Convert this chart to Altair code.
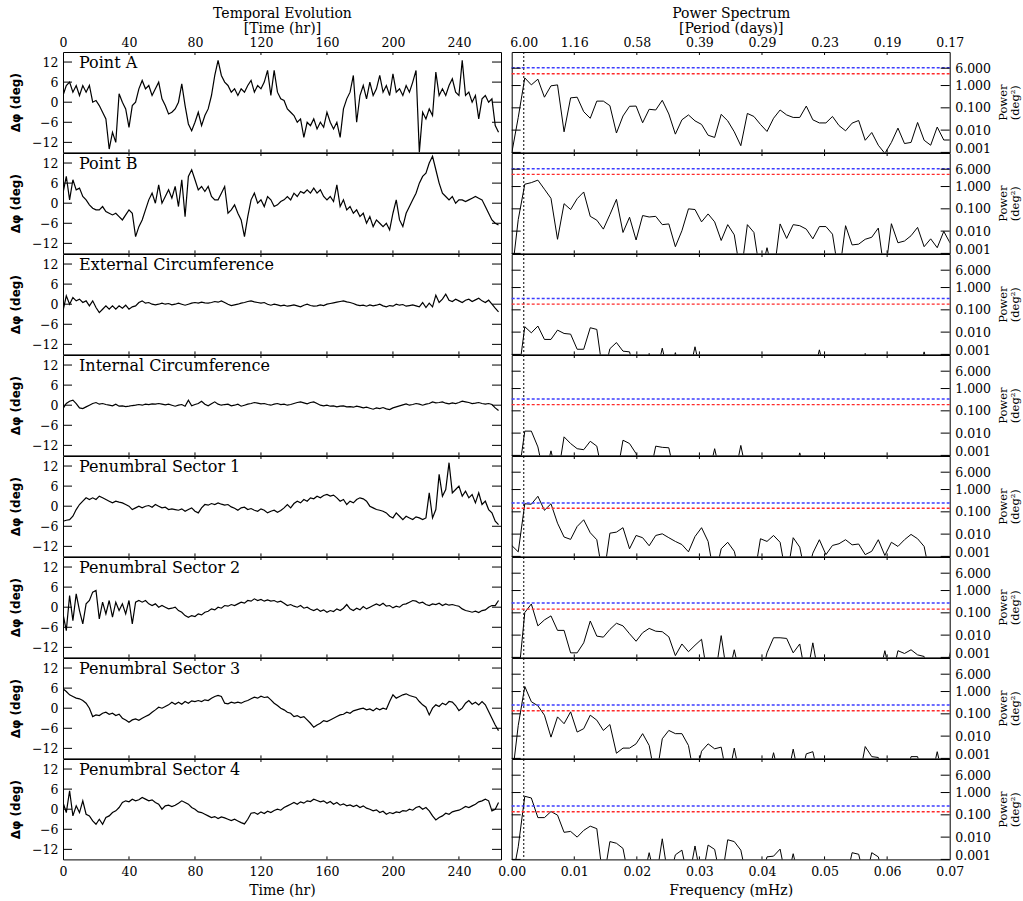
import altair as alt
import pandas as pd

# ---------------------------------------------------------------------------
# Sampling grids
# ---------------------------------------------------------------------------
HOURS = list(range(0, 266, 2))            # phase samples every 2 hr
RECORD_HR = 265.5                         # record length (hr)
DF_MHZ = 1000.0 / (RECORD_HR * 3600.0)    # spectral resolution (mHz)
FREQS = [k * DF_MHZ for k in range(68)]
LOW = 1e-4                                # power below the plotted range

# Axis ticks
TIME_TICKS = [0, 40, 80, 120, 160, 200, 240]
DPHI_TICKS = [-12, -6, 0, 6, 12]
FREQ_TICKS = [0.00, 0.01, 0.02, 0.03, 0.04, 0.05, 0.06, 0.07]
SIX_DAYS_MHZ = 1000.0 / (6 * 86400.0)
PERIOD_TICK_FREQS = [SIX_DAYS_MHZ, 0.01, 0.02, 0.03, 0.04, 0.05, 0.06, 0.07]
POWER_TICKS = [0.001, 0.01, 0.1, 1.0, 6.0]

PANEL_NAMES = ["Point A", "Point B", "External Circumference",
               "Internal Circumference", "Penumbral Sector 1",
               "Penumbral Sector 2", "Penumbral Sector 3", "Penumbral Sector 4"]

# ---------------------------------------------------------------------------
# Phase deviation series (deg), one value every 2 hr
# ---------------------------------------------------------------------------
point_a = [2, 5, 6, 3, 5, 2, 5, 3, 5, 0,
           0.5, -1, -3, -5, -14, -9, -12, 2.5, 0, -2,
           -7.5, -1, 0, 4, 6.5, 4, 5, 2, 4, 6,
           1, -1, -3.5, -3, -2, 0, 5.5, -1, -6.5, -8.5,
           -6, -3, -7, -4, -2, 2, 8, 12.5, 8, 6,
           5, 3, 4, 2, 4, 3, 5, 6.5, 3, 5,
           4, 6, 9.5, 2, 9.5, 3, 1, 0.5, -2, -3,
           -4, -6, -5, -10.5, -6, -7, -5, -8, -6, -7.5,
           -3, -6, -8, -6, -10.5, -2, 1, 3, 8, -6,
           2, 5, 1, 6, 2, 4, 8, 3, 5, 2,
           8.5, 3, 4, 2, 5, 3, 6, 9.5, -15, -3,
           -5, -2, -4, 9, 2, 4, 2, 5, 7, 3,
           2, 12.5, 2, 3, 0, 2, -5, 1, 2, 0,
           1, -7, -9]

point_b = [3, 8, 1, 7, 4, 4.5, 2, 1, -0.5, -1.5,
           -2, -2, -1, -2.5, -3, -3.5, -3, -4, -5, -3.5,
           -2, -3, -10, -7, -5, -2, 1, 3, 0, 5.5,
           0, 2, 4, 1.5, 5, -1, 7, -4, 8, 10,
           7, 4, 5, 3.5, 5, 2, 1, 1, 3, 5,
           -3, -2, -0.5, -3, -5, -10, -4, 1, 3, 0,
           1, -1, 2, 1, -1, -0.5, 0.5, 1, 2, 1,
           3, 2, 3.5, 3, 4, 3, 4.5, 3, 4, 2,
           1, 2, 0.5, 5.5, -1, 1, -2, -1, -3, -2,
           -4, -3, -6, -4, -7, -5, -6, -7, -6, -8,
           -3, 1, -5, -7, -3, -1, 1, 3, 6, 8,
           9, 12, 14, 10, 6, 3, 2, 1, 2, 0,
           1, 1, 0.5, 1, 1.5, 2, 1.5, 1, -1, -3,
           -5, -6, -6.5]

ext_circ = [-2, 2.5, 0, 2, 1, 1.5, 0.5, 1, -0.5, 1,
            -1, -2.5, -1.5, -0.5, -1.5, -0.5, -1.5, -0.5, -1.2, -0.3,
            -1.5, -0.8, -0.5, 0.5, 1, 0.3, 0.5, 0, -0.2, 0,
            0.3, 0, 0.2, -0.2, 0, 0.3, 0, -0.3, 0, 0.3,
            0.5, 0.3, 0.6, 0.4, 0.3, 0.5, 0.8, 0.6, 1, 0.5,
            0, -0.4, -0.2, 0, 0.3, 0.5, 0.8, 1, 0.7, 0.5,
            0.3, 0.5, 0, -0.3, 0, -0.2, -0.5, -0.3, -0.6, -0.4,
            -0.2, -0.5, -0.8, -0.3, 0, -0.4, -0.6, -0.5, -0.2, -0.4,
            0, 0.2, 0.4, 0.6, 0.8, 1, 0.7, 0.5, 0.2, -0.2,
            -0.4, -0.3, -0.6, -0.2, -0.5, -0.3, 0, -0.5, -0.8, -0.4,
            -0.6, 0, -0.3, -0.1, -0.6, -0.4, -0.2, -0.5, -0.8, 0.5,
            -1, 0.3, -0.8, 2.7, 0.5, 1.5, 3, 1.2, 0.8, 1.5,
            1, 0.5, 1.2, 1.5, 0.8, 1.3, 1.8, 1, 0.5, 1.2,
            0, -1.2, -2.3]

int_circ = [-1, 0.5, 1.2, 1.5, 0.5, -0.8, -1, -0.5, 0, 0.5,
            0.8, 0.3, 0.5, 0.2, 0, -0.2, 0.3, -0.3, -0.2, -0.4,
            -0.3, -0.1, 0, 0.2, 0, 0.3, 0.2, 0.4, 0.3, 0.5,
            0.3, 0.1, 0.3, 0, -0.3, 0, 0.2, -0.3, 1.5, -0.2,
            0.2, 0.5, 1.2, 0.3, -0.2, 0.4, 1, 0.3, 0, 0.2,
            0.3, -0.2, 0, 0.3, -0.3, 0, 0.3, 0.5, 0.8, 0.6,
            0.4, 0.5, 0.2, 0, 0.3, 0.5, 0.2, 0.3, 0, 0.2,
            0.5, 0.8, 1, 0.7, 0.4, 0.8, 1, 0.5, 0, -0.2,
            0, -0.3, -0.2, -0.5, -0.3, -0.2, -0.5, -0.4, -0.6, -0.3,
            -0.5, -0.8, -0.6, -0.9, -1.2, -0.8, -1.0, -0.7, -1.1, -1.3,
            -0.8, -0.5, -0.2, 0.1, 0.4, 0, 0.2, 0.5, 0.3, 0,
            0.3, 0.5, 1, 0.7, 0.8, 1, 0.6, 0.4, 0.7, 0.5,
            0.8, 1.2, 1, 0.8, 0.5, 0.6, 0.8, 0.5, 0.3, 0.5,
            0.2, -0.8, -1.6]

sector_1 = [-4.5, -4.2, -4, -3, -1, 0.5, 1.5, 2.5, 2, 2.5,
            2, 3, 2.5, 2, 1.5, 1, 1.5, 1.2, 1, 0.5,
            0, -1, -0.5, 0, -0.5, 0, 0.2, -0.3, 0.5, 0,
            -0.5, -0.3, -1, -0.8, -1, -1.2, -0.8, -1.5, -1, -0.5,
            -1.5, -2, -0.5, 0.5, 0.3, 0.8, 0.5, 1, 0.6, 0.3,
            0.5, -0.2, -0.6, -1.2, -0.5, -0.3, -1, -0.7, -1.2, -1.5,
            -0.8, -1.2, -2, -1.5, -1.2, -1.8, -1.3, -0.5, 0.5, -0.5,
            0.8, 1.5, 1, 2, 1.5, 2.5, 2.2, 3, 2.5, 3.2,
            3.5, 3, 3.3, 2.5, 1.5, 2, 0.5, 1.5, 1, 2,
            2.5, 2.2, 1.5, 0, -0.5, -1, -1.2, -1.5, -2, -3,
            -3.5, -2, -3, -4, -3, -3.5, -4, -3.2, -3.5, -4,
            -3.5, 4, -3.5, -1, 9.5, 3, 5, 13, 4, 5,
            6, 3, 4.5, 2.5, 3.5, 1, 4, 0.5, 1.5, -1,
            -2, -4.5, -5.5]

sector_2 = [-2, -7, 3.5, -4, 4, -1, -5, 1, 2, 4.5,
            5, -3.5, 1.5, -2, 2, -3, 1.5, -1, 1, -2,
            2, -5, 1.5, 2, 1.5, 2, 1, 0.5, 1, 0,
            0.5, 0, -0.5, -0.3, 0, -1, -1.5, -2.5, -3, -2.5,
            -2.8, -2, -2.3, -1.5, -1.2, -0.5, -0.8, 0, -0.3, 0.5,
            0.3, 0.8, 0.5, 1, 1.5, 1.2, 2, 1.8, 2.5, 2,
            2.3, 1.8, 2.2, 1.8, 2, 1.5, 1.8, 1.2, 0.5, 0.8,
            0.3, 0, 0.5, -0.3, 0, -0.6, -1, -0.5, -1.2, -0.8,
            -1.5, -1, -1.3, -0.5, -1, -0.3, 0.8, -0.5, -1, -0.3,
            -0.8, 0.2, -0.5, 0, 0.5, 1, 0.5, 1.2, 0.3, 0.5,
            -0.2, 0.3, 0, 0.8, 1, 1.5, 2, 1.8, 1.2, 1.5,
            0.8, 0.5, 1, 0.8, 1.2, 0.5, 1, 0.6, 0.8, 0.5,
            0.3, -0.5, -1, -1.2, -1.5, -1.2, -1.6, -1.0, -0.8, 0,
            0.5, 0.5, 2]

sector_3 = [5.8, 5, 4, 3.5, 3, 2.8, 2.3, 1.5, 0, -2.5,
            -2, -2.2, -1.5, -1.2, -1.8, -1.5, -2.2, -1.8, -3, -3.5,
            -4.2, -3.5, -3.2, -3.6, -3, -2.5, -2, -1.2, -0.5, 0.3,
            0, 0.5, 1, 1.8, 1.2, 1.8, 1.2, 2, 1.5, 2.2,
            2, 2.3, 2, 2.5, 2.3, 3, 3.5, 3.8, 3.5, 1.5,
            1.3, 1.8, 1.5, 1.8, 1.5, 2, 2.3, 2.8, 3.3, 3,
            3.6, 3.2, 3.4, 2.5, 1.5, 0.8, 0, -0.5, -1.2, -1.5,
            -2.5, -2.2, -2.8, -2.5, -3.5, -4.5, -5.7, -5, -4.5, -3.7,
            -4, -3.5, -3, -2.5, -2, -1.8, -1.2, -1.5, -0.8, -0.5,
            -0.2, 0, -0.5, -0.2, -0.8, 0, -0.5, 0, -0.3, 2,
            4, 3, 3.5, 4, 4.3, 3.8, 3.5, 3.2, 2, 1,
            0.3, -2, 0, 1, 0.5, 1.5, 1, 2, 1.8, 0.8,
            -0.7, 0, 1.5, 2.3, 1.2, 1.8, 1, 2, 1, -1,
            -3, -5, -6.7]

sector_4 = [2, -1, 5.5, -2, 1, -1, 2.5, -1.5, -2, -3.5,
            -4.5, -3, -4.5, -2.5, -2, -1, -0.5, 0.5, 2, 2.5,
            2.2, 3, 2.5, 2.8, 3.5, 3, 2.5, 2.8, 2, 1.5,
            0, 1, 1.2, 0.8, 1.2, 1.8, 2.5, 2, 1.5, 0.5,
            0, -0.8, -1, -1.5, -2, -2.5, -2.2, -2.8, -2.3, -2.6,
            -3, -3.4, -3, -3.5, -4, -4.4, -3, -1.2, -1, -1.5,
            -0.8, -1.3, -0.6, -1, -0.4, 0, -0.3, 0.5, 1, 1.5,
            2, 1.5, 2.2, 1.8, 2.5, 2.3, 3, 2.6, 2.2, 2.5,
            1.8, 2.3, 1.5, 2, 1.2, 1.6, 1, 1.3, 0.8, 1.2,
            0.5, 1, 0.3, 0, -0.5, -0.2, -1, -0.6, -1.5, -1,
            -1.3, -0.8, -1, -0.4, -0.6, 0, -0.3, 0.5, 0.8, 0,
            0.5, -0.5, -2, -3.2, -2.5, -2, -1.2, -1.5, -0.8, -0.5,
            -0.3, 0.2, 0.8, 0.5, 1, 1.5, 2.2, 2.5, 3, 2.5,
            -0.5, 0, 2]

# ---------------------------------------------------------------------------
# Power spectra (deg^2), one value per frequency bin
# ---------------------------------------------------------------------------
power_a = [0.0009, 0.037, 2.2, 1.07, 1.93, 0.30, 0.97, 1.07, 0.0084, 0.28,
           0.30, 0.067, 0.034, 0.20, 0.20, 0.125, 0.0074, 0.043, 0.117, 0.12,
           0.0214, 0.086, 0.08, 0.218, 0.053, 0.0066, 0.029, 0.048, 0.026, 0.018,
           0.0059, 0.0047, 0.051, 0.026, 0.0084, 0.0020, 0.056, 0.041, 0.018, 0.0087,
           0.034, 0.08, 0.048, 0.037, 0.037, 0.12, 0.029, 0.021, 0.021, 0.041,
           0.016, 0.0093, 0.0206, 0.027, 0.0035, 0.0078, 0.0021, 0.0009, 0.0028, 0.0123,
           0.0025, 0.0028, 0.022, 0.0035, 0.0021, 0.0137, 0.0036, 0.0036]

power_b = [LOW, 0.033, 1.27, 1.5, 1.94, 0.76, 0.295, 0.0043, 0.17, 0.093,
           0.285, 0.57, 0.046, 0.031, 0.0123, 0.055, 0.266, 0.0087, 0.042, 0.0040,
           0.05, 0.043, 0.046, 0.0195, 0.021, 0.002, 0.0104, 0.1, 0.093, 0.026,
           0.059, 0.026, 0.0038, 0.0195, 0.0068, LOW, 0.0195, 0.0087, LOW, 0.0018,
           LOW, 0.021, 0.0047, 0.0195, 0.0175, 0.0123, 0.0045, 0.016, 0.016, 0.0073,
           LOW, 0.0175, 0.0024, 0.0026, 0.0043, 0.0053, 0.0137, LOW, 0.0215, 0.003,
           0.0036, 0.0062, 0.0147, 0.002, 0.0045, 0.0018, 0.0097, 0.0028]

power_ext = [LOW, LOW, 0.0175, 0.0093, 0.0187, 0.0047, 0.0047, 0.0123, 0.0087, 0.0081,
             0.0017, 0.0017, 0.0157, 0.0132, LOW, 0.0018, 0.0034, 0.0014, 0.0013, LOW,
             LOW, 0.0011, LOW, 0.0019, LOW, 0.0012, LOW, LOW, 0.0022, LOW,
             LOW, LOW, LOW, LOW, LOW, LOW, LOW, LOW, LOW, LOW,
             LOW, LOW, LOW, LOW, LOW, LOW, LOW, 0.0016, LOW, LOW,
             LOW, LOW, LOW, LOW, 0.0011, LOW, LOW, LOW, LOW, LOW,
             LOW, LOW, LOW, 0.0013, LOW, LOW, LOW, LOW]

power_int = [LOW, LOW, 0.0123, 0.0123, 0.0024, LOW, 0.0016, LOW, 0.0068, 0.0034,
             0.0020, 0.0018, 0.0043, 0.0026, LOW, LOW, LOW, 0.0048, 0.0034, 0.0012,
             LOW, LOW, 0.0026, 0.0023, 0.0022, LOW, LOW, LOW, LOW, LOW,
             LOW, 0.0020, LOW, LOW, LOW, 0.0028, LOW, LOW, LOW, LOW,
             LOW, LOW, LOW, LOW, 0.0013, LOW, LOW, LOW, LOW, LOW,
             LOW, LOW, LOW, LOW, LOW, LOW, LOW, LOW, LOW, LOW,
             LOW, LOW, LOW, LOW, LOW, LOW, LOW, LOW]

power_s1 = [0.0031, 0.0016, 0.23, 0.22, 0.50, 0.117, 0.23, 0.031, 0.0074, 0.0058,
            0.022, 0.044, 0.0115, 0.0056, LOW, 0.011, 0.0123, 0.0194, 0.0022, 0.0087,
            0.0069, 0.0030, 0.0087, 0.0103, 0.0069, 0.0047, 0.0034, 0.0016, 0.0078, 0.0194,
            0.0047, LOW, 0.0022, 0.0043, 0.0017, LOW, LOW, LOW, 0.0062, 0.0047,
            0.0087, 0.0043, LOW, 0.0069, 0.0026, LOW, 0.0014, 0.0056, 0.0012, 0.0031,
            0.0037, 0.0056, 0.0033, 0.0036, 0.0012, 0.0017, 0.0056, 0.0011, 0.0043, 0.0028,
            0.0056, 0.0097, 0.0062, 0.0028, LOW, LOW, LOW, LOW]

power_s2 = [LOW, LOW, 0.103, 0.25, 0.026, 0.048, 0.073, 0.0163, 0.0163, 0.0016,
            0.0016, 0.0045, 0.043, 0.0090, 0.0081, 0.018, 0.034, 0.026, 0.0115, 0.0053,
            0.0128, 0.020, 0.015, 0.0142, 0.0084, 0.0012, 0.0040, 0.0018, 0.0035, 0.0065,
            LOW, LOW, 0.0095, LOW, 0.0022, LOW, LOW, LOW, LOW, 0.0016,
            0.0076, 0.0076, 0.0071, 0.0016, 0.0040, LOW, 0.0045, LOW, LOW, LOW,
            LOW, LOW, LOW, LOW, LOW, LOW, LOW, 0.0020, LOW, 0.0020,
            0.0015, 0.0022, 0.0013, 0.0011, LOW, LOW, LOW, 0.0017]

power_s3 = [LOW, 0.03, 1.69, 0.35, 0.23, 0.087, 0.0090, 0.073, 0.036, 0.123,
            0.0152, 0.0216, 0.087, 0.052, 0.018, 0.033, 0.0017, 0.0029, 0.0029, 0.0045,
            0.0129, 0.0038, LOW, 0.0076, 0.018, 0.0129, 0.0129, 0.0038, LOW, 0.0021,
            0.0045, 0.0027, 0.0032, LOW, 0.0029, LOW, LOW, LOW, LOW, LOW,
            0.0018, LOW, LOW, 0.0026, LOW, 0.0016, 0.0020, LOW, LOW, LOW,
            LOW, LOW, LOW, LOW, 0.0034, 0.0012, 0.0011, LOW, LOW, LOW,
            LOW, 0.0012, 0.0012, LOW, LOW, 0.0020, LOW, LOW]

power_s4 = [LOW, 0.0037, 0.68, 0.57, 0.075, 0.075, 0.14, 0.097, 0.0164, 0.018,
            0.010, 0.020, 0.031, 0.024, LOW, 0.0063, 0.0053, 0.0031, LOW, LOW,
            LOW, 0.0020, LOW, 0.0084, LOW, 0.0016, 0.0026, LOW, 0.0040, LOW,
            0.0044, 0.0028, LOW, 0.0076, 0.0063, 0.0026, LOW, LOW, LOW, 0.0013,
            0.0014, 0.0029, LOW, 0.0018, LOW, LOW, LOW, LOW, LOW, LOW,
            LOW, LOW, 0.0020, 0.0017, LOW, 0.0020, 0.0013, LOW, LOW, LOW,
            LOW, LOW, LOW, LOW, LOW, LOW, LOW, LOW]

# Significance levels drawn as dotted lines (deg^2)
SIG_BLUE = [6.3, 6.3, 0.32, 0.34, 0.25, 0.275, 0.25, 0.25]
SIG_RED = [3.4, 3.5, 0.18, 0.19, 0.145, 0.147, 0.137, 0.138]

PHASE_SERIES = [point_a, point_b, ext_circ, int_circ,
                sector_1, sector_2, sector_3, sector_4]
POWER_SERIES = [power_a, power_b, power_ext, power_int,
                power_s1, power_s2, power_s3, power_s4]

# ---------------------------------------------------------------------------
# Layout constants
# ---------------------------------------------------------------------------
W = 438
H = 100.4
N = len(PANEL_NAMES)
YTICK_LEN = 9
XTICK_LEN = 3
SERIF = "DejaVu Serif"


def inner_ticks(xscale, yscale, x_axis, y_axis, xvals, yvals):
    """Inward-pointing tick marks on all four sides of a panel.

    Every layer of a panel carries the same axis definition so that the
    layered axes merge into one.
    """
    xdf = pd.DataFrame({"x": xvals})
    ydf = pd.DataFrame({"y": yvals})
    enc_x = alt.X("x:Q", scale=xscale, axis=x_axis)
    enc_y = alt.Y("y:Q", scale=yscale, axis=y_axis)
    rule = dict(color="black", strokeWidth=1)
    return [
        alt.Chart(ydf).mark_rule(**rule).encode(y=enc_y, x=alt.value(0), x2=alt.value(YTICK_LEN)),
        alt.Chart(ydf).mark_rule(**rule).encode(y=enc_y, x=alt.value(W - YTICK_LEN), x2=alt.value(W)),
        alt.Chart(xdf).mark_rule(**rule).encode(x=enc_x, y=alt.value(0), y2=alt.value(XTICK_LEN)),
        alt.Chart(xdf).mark_rule(**rule).encode(x=enc_x, y=alt.value(H - XTICK_LEN), y2=alt.value(H)),
    ]


def time_panel(i):
    xs = alt.Scale(domain=[0, RECORD_HR], nice=False, zero=False)
    ys = alt.Scale(domain=[-15, 15], nice=False, zero=False)
    if i == 0:
        x_axis = alt.Axis(orient="top", values=TIME_TICKS, labelFlush=False,
                          title=["Temporal Evolution", "[Time (hr)]"],
                          titleLineHeight=14.5, titlePadding=1, labelPadding=3)
    elif i == N - 1:
        x_axis = alt.Axis(orient="bottom", values=TIME_TICKS, labelFlush=False,
                          title="Time (hr)", labelPadding=6, titlePadding=6)
    else:
        x_axis = None
    y_axis = alt.Axis(orient="left", values=DPHI_TICKS, title="Δφ (deg)",
                      titleFont="DejaVu Sans", titleFontSize=12, titleFontWeight="bold",
                      labelPadding=5, titlePadding=9)
    df = pd.DataFrame({"t": HOURS, "v": PHASE_SERIES[i]})
    line = alt.Chart(df).mark_line(color="black", strokeWidth=1.2, clip=True).encode(
        x=alt.X("t:Q", scale=xs, axis=x_axis),
        y=alt.Y("v:Q", scale=ys, axis=y_axis),
    )
    label = alt.Chart(pd.DataFrame({"name": [PANEL_NAMES[i]]})).mark_text(
        font=SERIF, fontSize=16, align="left", baseline="alphabetic", color="black"
    ).encode(x=alt.value(16), y=alt.value(16), text="name:N")
    layers = [line, label] + inner_ticks(xs, ys, x_axis, y_axis, TIME_TICKS[1:], DPHI_TICKS)
    return alt.layer(*layers).properties(width=W, height=H)


def spectrum_panel(i):
    xs = alt.Scale(domain=[0, 0.07], nice=False, zero=False)
    ys = alt.Scale(type="log", domain=[0.001, 32], nice=False)
    if i == 0:
        x_axis = alt.Axis(orient="top", values=PERIOD_TICK_FREQS, labelFlush=False,
                          labelExpr="format(1000 / (datum.value * 86400), '.2f')",
                          title=["Power Spectrum", "[Period (days)]"],
                          titleLineHeight=14.5, titlePadding=1, labelPadding=3)
    elif i == N - 1:
        x_axis = alt.Axis(orient="bottom", values=FREQ_TICKS, format=".2f",
                          labelFlush=False, title="Frequency (mHz)",
                          labelPadding=6, titlePadding=6)
    else:
        x_axis = None
    y_axis = alt.Axis(orient="right", values=POWER_TICKS, format=".3f",
                      title=["Power", "(deg²)"], titleAngle=270,
                      titleFontSize=11.5, titleLineHeight=11.5,
                      labelPadding=5, titlePadding=7, labelFlush=False,
                      labelOffset={"condition": {"test": "datum.value < 0.002", "value": -4},
                                   "value": 0})
    df = pd.DataFrame({"f": FREQS, "p": POWER_SERIES[i]})
    line = alt.Chart(df).mark_line(color="black", strokeWidth=1, clip=True).encode(
        x=alt.X("f:Q", scale=xs, axis=x_axis),
        y=alt.Y("p:Q", scale=ys, axis=y_axis),
    )
    period_line = alt.Chart(pd.DataFrame({"f": [SIX_DAYS_MHZ]})).mark_rule(
        color="black", strokeWidth=1, strokeDash=[2, 2]
    ).encode(x=alt.X("f:Q", scale=xs, axis=x_axis))
    blue = alt.Chart(pd.DataFrame({"p": [SIG_BLUE[i]]})).mark_rule(
        color="#3c3cff", strokeWidth=1.4, strokeDash=[3, 2]
    ).encode(y=alt.Y("p:Q", scale=ys, axis=y_axis))
    red = alt.Chart(pd.DataFrame({"p": [SIG_RED[i]]})).mark_rule(
        color="#ff2a2a", strokeWidth=1.4, strokeDash=[3, 2]
    ).encode(y=alt.Y("p:Q", scale=ys, axis=y_axis))
    layers = [line, period_line, blue, red] + inner_ticks(
        xs, ys, x_axis, y_axis, FREQ_TICKS[1:-1], POWER_TICKS)
    return alt.layer(*layers).properties(width=W, height=H)


panels = []
for i in range(N):
    panels.append(time_panel(i))
    panels.append(spectrum_panel(i))

# Flush bounds keep the panels abutting.
chart = alt.concat(
    *panels, columns=2, spacing={"row": 0, "column": 10.7}, bounds="flush"
).properties(
    padding={"left": 9, "top": 6, "right": 0, "bottom": 2},
    background="white",
).configure_view(
    stroke="black", strokeWidth=1
).configure_axis(
    labelFont=SERIF, labelFontSize=12.5, labelColor="black",
    titleFont=SERIF, titleFontSize=14, titleFontWeight="normal", titleColor="black",
    domain=False, ticks=False, tickSize=0, grid=False,
)

chart.save("out.html", embed_options={"renderer": "svg", "actions": False})
